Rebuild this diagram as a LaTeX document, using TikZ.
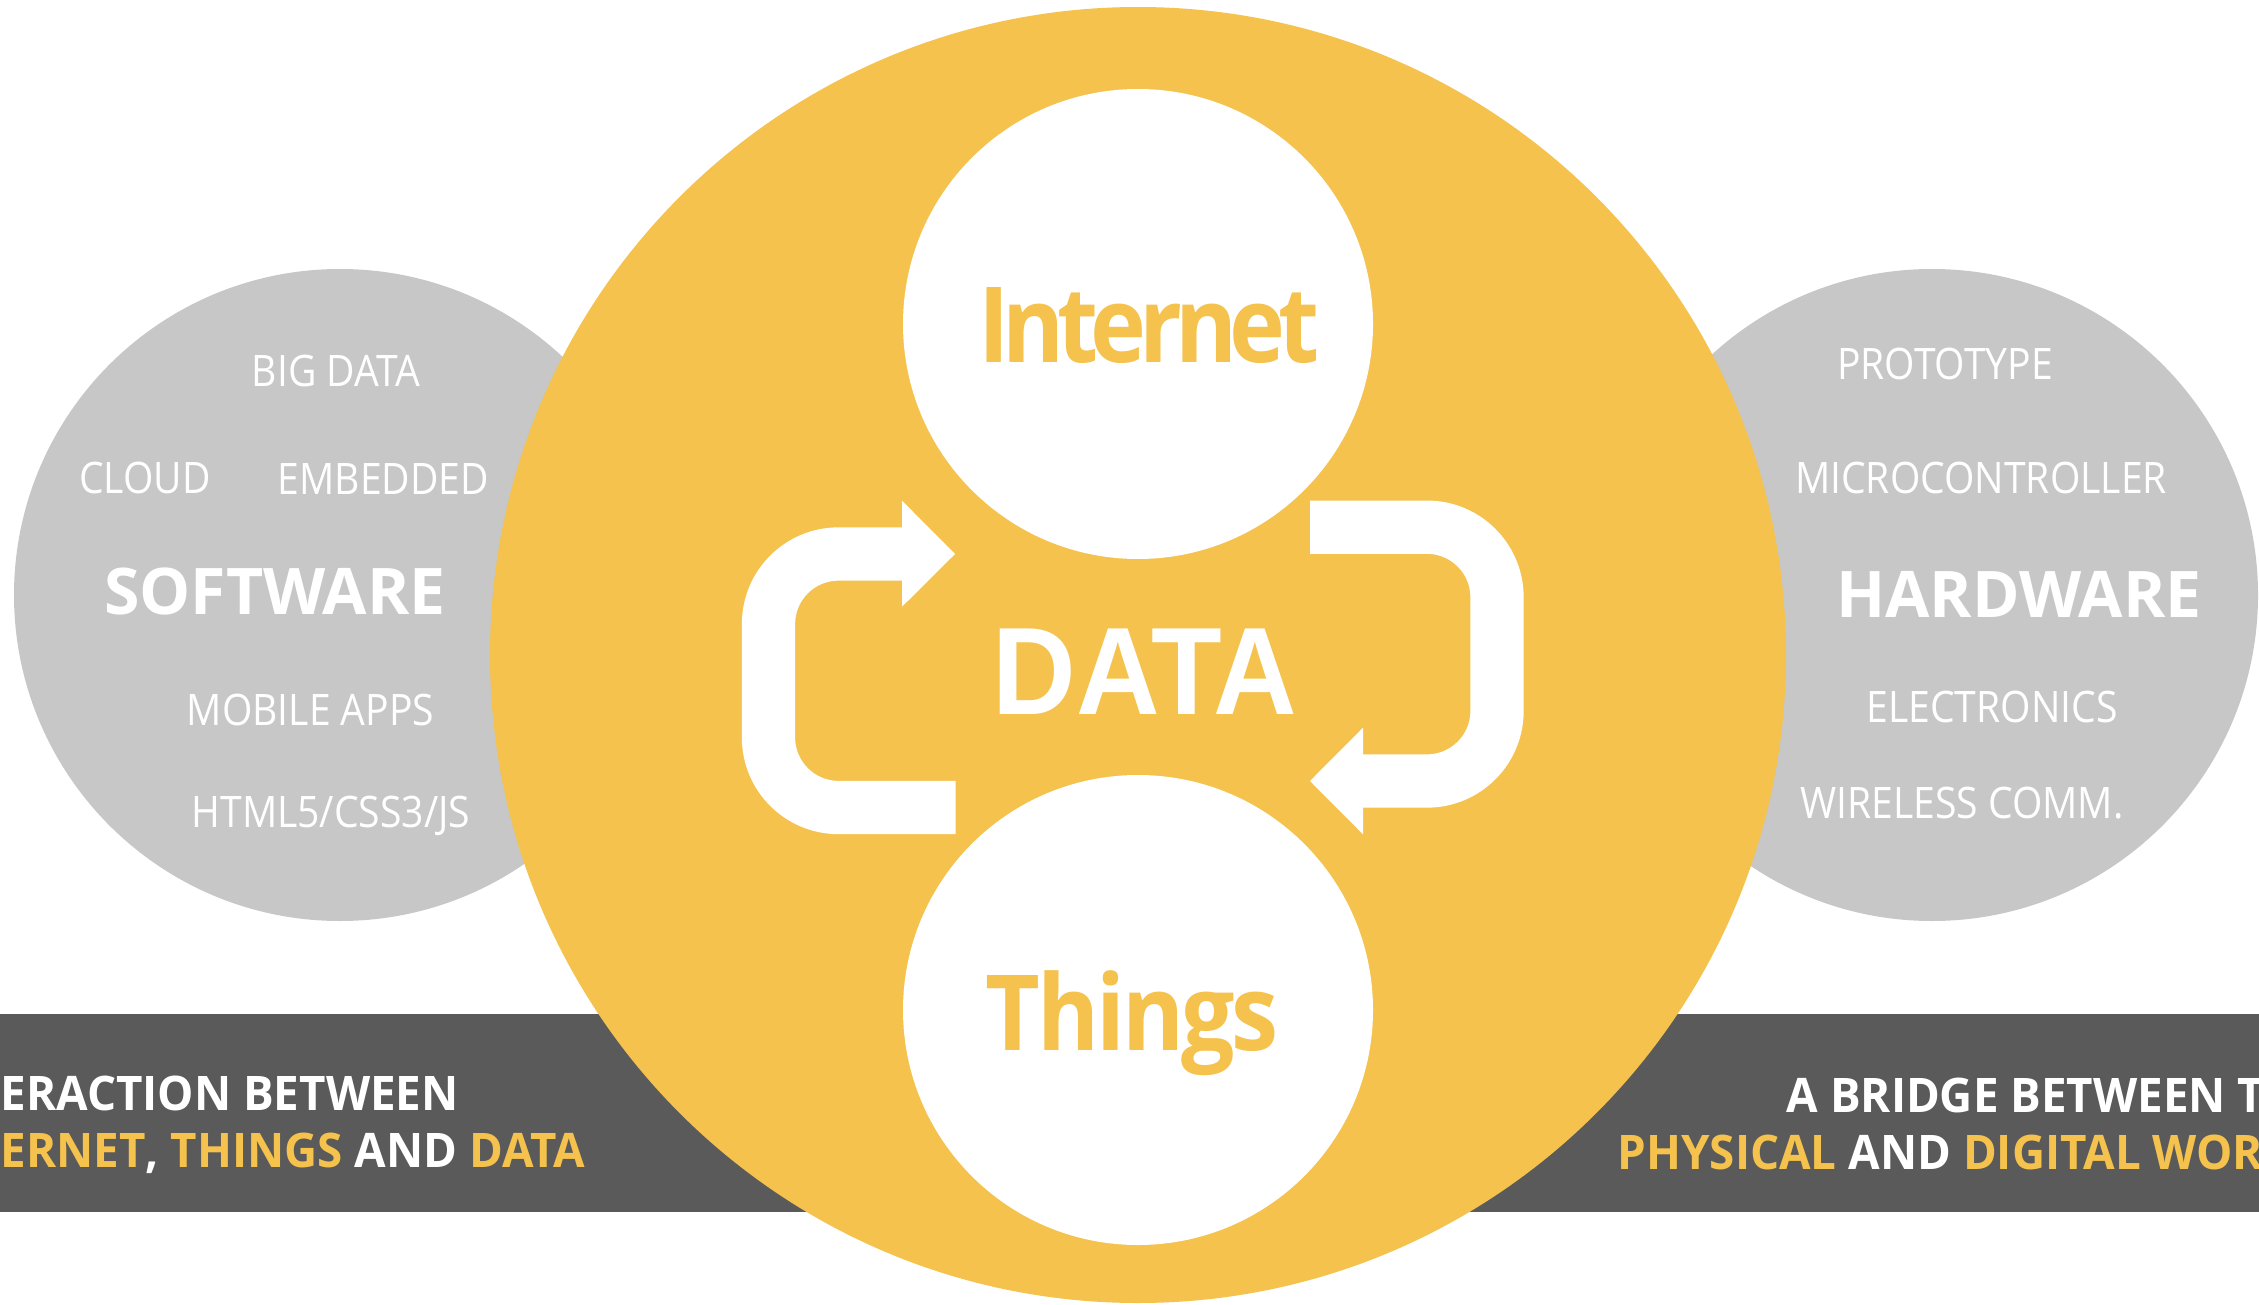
\documentclass[tikz,border=0pt]{standalone}
\usepackage{fontspec}
\setmainfont{Open Sans}
\newfontfamily\labelf[FakeStretch=0.9]{Open Sans}
\newfontfamily\bandf[FakeStretch=0.96]{Open Sans}
\newfontfamily\interf[FakeStretch=0.9,LetterSpace=-7]{Open Sans}
\newfontfamily\thingf[FakeStretch=0.9,LetterSpace=-3]{Open Sans}
\newfontfamily\dataf[FakeStretch=0.93]{Liberation Sans}
\definecolor{iotyellow}{RGB}{244,194,77}
\definecolor{iotgrey}{RGB}{199,199,199}
\definecolor{iotband}{RGB}{90,90,90}
\begin{document}
\begin{tikzpicture}[x=0.1mm,y=-0.1mm,
  disc/.style={circle,inner sep=0,outer sep=0,draw=none},
  lbl/.style={text=white,inner sep=0,anchor=base,font=\labelf\fontsize{12.35}{14}\selectfont},
  bigl/.style={text=white,inner sep=0,anchor=base,font=\bfseries\fontsize{18.3}{20}\selectfont},
  bandtxt/.style={text=white,inner sep=0,anchor=base west,font=\bandf\bfseries\fontsize{13.55}{15}\selectfont},
  arrowbody/.style={draw=white,line width=5.33mm,line cap=butt,rounded corners=7mm},
  arrowtip/.style={fill=white}]
\useasboundingbox (0,0) rectangle (2259,1304);
\clip (0,0) rectangle (2259,1304);
\fill[white] (0,0) rectangle (2259,1304);
\fill[iotband] (0,1014) rectangle (2259,1212);
% grey side circles
\node[disc,fill=iotgrey,minimum size=65.2mm] (soft) at (340,595) {};
\node[disc,fill=iotgrey,minimum size=65.2mm] (hard) at (1932,595) {};
% big yellow circle
\node[disc,fill=iotyellow,minimum size=129.6mm] (big) at (1138,655) {};
% white circles
\node[disc,fill=white,minimum size=47mm] (inet) at (1138,324) {};
\node[disc,fill=white,minimum size=47mm] (thing) at (1138,1010) {};
% cycle arrows
\draw[arrowbody] (903,554) -- (768.5,554) -- (768.5,807.5) -- (955.5,807.5);
\fill[arrowtip] (902,500.7) -- (955,554) -- (902,606.7) -- cycle;
\draw[arrowbody] (1310,527.2) -- (1497,527.2) -- (1497,781) -- (1362,781);
\fill[arrowtip] (1363,727.7) -- (1310,781) -- (1363,834.3) -- cycle;
% center words
\node[inner sep=0,anchor=base,text=iotyellow,font=\interf\bfseries\fontsize{29.9}{32}\selectfont] (tinet) at (1149,363) {Internet};
\node[inner sep=0,anchor=base,text=iotyellow,font=\thingf\bfseries\fontsize{29.9}{32}\selectfont] (tthing) at (1132,1050.7) {Things};
\node[inner sep=0,anchor=base,text=white,font=\dataf\bfseries\fontsize{35.4}{38}\selectfont] (tdata) at (1145,714) {DATA};
% software labels
\node[lbl] (bigdata) at (336,386) {BIG DATA};
\node[lbl] (cloud) at (145,493) {CLOUD};
\node[lbl] (embedded) at (383.5,494.6) {EMBEDDED};
\node[bigl] (software) at (275,614) {SOFTWARE};
\node[lbl] (mobile) at (310.5,725) {MOBILE APPS};
\node[lbl] (html) at (331,827) {HTML5/CSS3/JS};
% hardware labels
\node[lbl] (proto) at (1945,379.5) {PROTOTYPE};
\node[lbl] (micro) at (1981,493) {MICROCONTROLLER};
\node[bigl] (hardware) at (2019,617) {HARDWARE};
\node[lbl] (elec) at (1992,722) {ELECTRONICS};
\node[lbl] (wireless) at (1962,818) {WIRELESS COMM.};
% band texts
\node[bandtxt] (bl1) at (0,1110) {ERACTION BETWEEN};
\node[bandtxt] (bl2) at (0,1167) {\textcolor{iotyellow}{ERNET}, \textcolor{iotyellow}{THINGS} AND \textcolor{iotyellow}{DATA}};
\node[bandtxt] (br1) at (1786,1112) {A BRIDGE BETWEEN T};
\node[bandtxt] (br2) at (1617,1169) {\textcolor{iotyellow}{PHYSICAL} AND \textcolor{iotyellow}{DIGITAL WOR}};
\end{tikzpicture}
\end{document}
